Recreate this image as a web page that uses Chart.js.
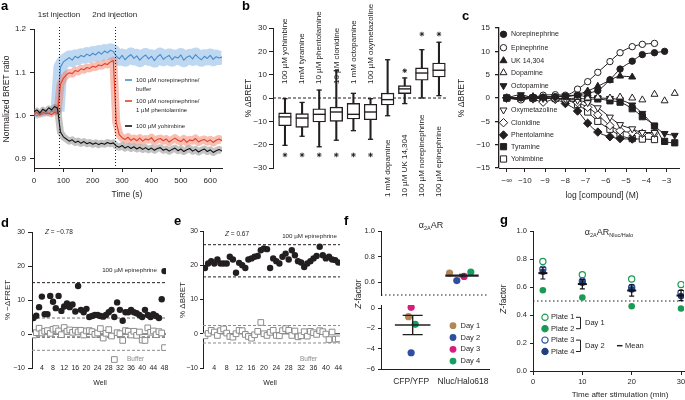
<!DOCTYPE html>
<html lang="en">

<head>
    <meta charset="UTF-8">
    <meta name="viewport" content="width=device-width, initial-scale=1.0">
    <title>alpha2A AR sensor</title>
    <style>
        body { margin: 0; width: 685px; height: 400px; overflow: hidden; background: #fff; position: relative; }
        canvas { position: absolute; left: 0; top: 0; }
    </style>
</head>

<body>
    <script src="https://cdn.jsdelivr.net/npm/chart.js@4.4.1/dist/chart.umd.min.js"></script>

    <canvas id="chartA" width="685" height="400"></canvas>
    <canvas id="chartB" width="685" height="400"></canvas>
    <canvas id="chartC" width="685" height="400"></canvas>
    <canvas id="chartD" width="685" height="400"></canvas>
    <canvas id="chartE" width="685" height="400"></canvas>
    <canvas id="chartF1" width="685" height="400"></canvas>
    <canvas id="chartF2" width="685" height="400"></canvas>
    <canvas id="chartG" width="720" height="400"></canvas>

    <script>
        // ---------- data ----------

        // a: normalized BRET ratio, one reading every 10 s
        const timeA = [0, 10, 20, 30, 40, 50, 60, 70, 80, 90, 100, 110, 120, 130, 140, 150, 160, 170, 180, 190,
            200, 210, 220, 230, 240, 250, 260, 270, 280, 290, 300, 310, 320, 330, 340, 350, 360, 370, 380, 390,
            400, 410, 420, 430, 440, 450, 460, 470, 480, 490, 500, 510, 520, 530, 540, 550, 560, 570, 580, 590,
            600, 610, 620, 630, 640]
        const injections = [85, 275]
        const blueA = [1.004, 0.999, 1.006, 1.002, 1.009, 1.004, 1.011, 1.007, 1.010,
            1.112, 1.124, 1.129, 1.134, 1.128, 1.137, 1.133, 1.139, 1.136, 1.142, 1.138, 1.144, 1.140, 1.147, 1.142, 1.149, 1.145, 1.151, 1.148,
            1.137, 1.131, 1.139, 1.129, 1.136, 1.141, 1.132, 1.138, 1.128, 1.135, 1.140, 1.131, 1.137, 1.127, 1.136, 1.141, 1.130, 1.135, 1.139,
            1.129, 1.136, 1.133, 1.140, 1.128, 1.135, 1.138, 1.131, 1.141, 1.134, 1.129, 1.137, 1.132, 1.139, 1.130, 1.136, 1.133, 1.135]
        const redA = [1.003, 1.007, 1.001, 1.008, 1.004, 1.006, 1.002, 1.008, 1.005,
            1.072, 1.086, 1.094, 1.099, 1.097, 1.104, 1.102, 1.108, 1.106, 1.111, 1.109, 1.114, 1.112, 1.117, 1.115, 1.120, 1.118, 1.124, 1.127,
            0.985, 0.956, 0.949, 0.945, 0.950, 0.943, 0.947, 0.942, 0.948, 0.941, 0.946, 0.944, 0.949, 0.940, 0.945, 0.947, 0.942, 0.946, 0.939,
            0.944, 0.948, 0.943, 0.940, 0.946, 0.938, 0.944, 0.942, 0.947, 0.939, 0.943, 0.945, 0.940, 0.944, 0.938, 0.943, 0.946, 0.942]
        const blackA = [1.009, 1.013, 1.006, 1.015, 1.010, 1.018, 1.013, 1.021, 1.017,
            0.962, 0.951, 0.946, 0.941, 0.944, 0.938, 0.941, 0.936, 0.940, 0.935, 0.938, 0.934, 0.937, 0.933, 0.936, 0.934, 0.938, 0.935, 0.937,
            0.930, 0.927, 0.931, 0.925, 0.929, 0.924, 0.928, 0.923, 0.927, 0.922, 0.926, 0.921, 0.925, 0.920, 0.924, 0.926, 0.920, 0.923, 0.918,
            0.922, 0.925, 0.919, 0.923, 0.917, 0.921, 0.924, 0.918, 0.922, 0.916, 0.920, 0.923, 0.917, 0.921, 0.915, 0.919, 0.922, 0.918]

        // b: box plots of % dBRET
        const bLabels = ['100 \u00b5M yohimbine', '1mM tyramine', '10 \u00b5M phentolamine', '10 \u00b5M clonidine',
            '1 mM octopamine', '100 \u00b5M oxymetazoline', '1 mM dopamine', '10 \u00b5M UK 14,304',
            '100 \u00b5M norepinephrine', '100 \u00b5M epinephrine']
        const bX = [1, 2, 3, 4, 5, 6, 7, 8, 9, 10]
        const bMin = [-20.3, -16.4, -20.9, -18.1, -14.0, -17.7, -7.6, -2.4, 0.0, 1.0]
        const bQ1 = [-11.9, -12.6, -10.3, -10.0, -9.0, -9.3, -3.0, 1.9, 7.6, 9.0]
        const bMed = [-8.1, -8.6, -7.0, -6.0, -7.0, -6.0, -0.7, 3.9, 10.7, 11.9]
        const bQ3 = [-6.4, -6.7, -4.6, -3.9, -2.3, -2.7, 2.1, 5.3, 12.9, 15.0]
        const bMax = [-0.3, -1.9, 3.4, 11.7, 2.0, -0.3, 16.4, 8.6, 20.7, 23.9]
        const bStar = [-24.4, -24.4, -24.4, -24.4, -24.4, -24.4, null, 11.7, 27.4, 27.4]

        // c: concentration response, log [compound] (M)
        const NEG_INF = -10.9
        const logC = [NEG_INF, -10.2, -9.6, -9.1, -8.5, -8.0, -7.4, -6.9, -6.4, -5.8, -5.3, -4.7, -4.2, -3.6, -3.1, -2.6]
        const cTicks = [NEG_INF, -10, -9, -8, -7, -6, -5, -4, -3]
        const cNames = ['Norepinephrine', 'Epinephrine', 'UK 14,304', 'Dopamine', 'Octopamine',
            'Oxymetazoline', 'Clonidine', 'Phentolamine', 'Tyramine', 'Yohimbine']
        const cNor = [0, 0, 0.1, 0.2, 0.3, 0.4, 0.6, 1.1, 1.6, 3.9, 6.2, 7.9, 9.3, 9.7, 10.0]
        const cEpi = [0, -0.4, 0.1, 0.6, 0.7, 0.6, 1.9, 3.5, 5.5, 7.8, 9.7, 11.0, 11.5, 11.7]
        const cUK = [0, 0.1, 0.3, 0.2, 0.4, 0.3, 0.8, 1.5, 2.5, 3.8, 4.7, 4.5]
        const cDop = [0, 0.1, 0, 0.2, 0.3, 0.2, 0.1, 0, 0.2, 0, 0.2, 0, -0.4, 0.8, -0.6, 1.0]
        const cOct = [0, 0.7, 0.1, 0.2, 0.3, 0.5, 0.6, 0.2, 0, -0.1, -0.4, -1.5, -3.3, -6.0, -7.6, -8.0]
        const cOxy = [0, 0, 0, -0.1, 0, -0.2, -0.5, -1.0, -2.1, -4.1, -5.7, -6.6, -7.4, -7.4]
        const cClo = [0, 0, -0.2, -0.9, -0.2, -0.4, -1.0, -2.0, -3.6, -5.9, -7.0, -7.4, -7.6, -7.5]
        const cPhe = [0, 0, 0, 0, -0.3, -1.2, -2.8, -5.4, -7.3, -8.3, -8.7, -8.8]
        const cTyr = [0, -0.1, 0, -0.2, 0, -0.2, 0, -0.3, -0.2, -0.6, -0.9, -2.3, -4.0, -6.0, -9.3, -9.6]
        const cYoh = [0, 0, 0, 0, -0.1, -0.4, -1.4, -3.0, -5.0, -6.7, -8.0, -8.7, -8.8, -8.9]
        const cValues = [cNor, cEpi, cUK, cDop, cOct, cOxy, cClo, cPhe, cTyr, cYoh]
        const cFitted = [true, true, true, false, true, true, true, true, true, true]

        // d: FRET screen, 48 wells
        const wellsD = [1, 2, 3, 4, 5, 6, 7, 8, 9, 10, 11, 12, 13, 14, 15, 16, 17, 18, 19, 20, 21, 22, 23, 24,
            25, 26, 27, 28, 29, 30, 31, 32, 33, 34, 35, 36, 37, 38, 39, 40, 41, 42, 43, 44, 45, 46, 47, 48]
        const wellTicksD = [4, 8, 12, 16, 20, 24, 28, 32, 36, 40, 44, 48]
        const epiD = [4.7, 5.4, 7.9, 11.0, 5.8, 5.8, 11.2, 9.5, 7.6, 11.2, 6.8, 8.1, 9.0, 7.9, 8.7, 6.6, 14.1, 7.1, 6.4, 7.4,
            5.0, 5.3, 5.6, 5.6, 5.3, 5.1, 5.6, 6.4, 7.1, 5.0, 9.3, 7.1, 3.9, 6.4, 6.4, 7.1, 6.4, 6.1, 5.6, 5.0,
            7.1, 5.6, 5.0, 5.8, 5.3, 4.7, 10.2, 18.5]
        const bufD = [-0.3, 0.4, 1.7, 0.3, 0.8, 1.0, 0.2, 1.4, 1.6, 0.9, -0.2, 1.9, 0.8, 1.2, 0.5, 1.1, 0.6, 1.1, -0.3, 0.9,
            1.0, 0.7, -0.1, 0.3, 1.6, -1.2, 0.2, 1.3, -0.6, -7.5, 0.4, 0.1, -1.9, 1.0, 0.8, -0.3, 0.8, -0.4, 0.6, -1.8,
            -1.9, 1.8, 0.5, 0.9, -0.2, 0.7, 0.3, -4.0]
        const dRef = [15.1, 4.7, 0, -0.9, -4.8]

        // e: BRET screen, 44 wells
        const wellsE = [1, 2, 3, 4, 5, 6, 7, 8, 9, 10, 11, 12, 13, 14, 15, 16, 17, 18, 19, 20, 21, 22,
            23, 24, 25, 26, 27, 28, 29, 30, 31, 32, 33, 34, 35, 36, 37, 38, 39, 40, 41, 42, 43, 44]
        const wellTicksE = [4, 8, 12, 16, 20, 24, 28, 32, 36, 40, 44]
        const epiE = [19.2, 20.5, 21.2, 20.5, 21.7, 20.5, 20.5, 20.5, 22.5, 21.7, 17.8, 20.7, 20.0, 19.2, 21.7, 22.0, 22.5, 22.7, 24.4, 24.9,
            24.7, 19.2, 22.0, 21.2, 20.5, 22.5, 23.4, 21.7, 24.4, 22.9, 21.2, 20.8, 19.5, 20.5, 21.2, 22.0, 22.7, 25.4, 22.9, 22.0,
            22.5, 21.7, 21.5, 20.8]
        const bufE = [-0.6, 0.1, 1.0, 0.5, -0.5, 0.9, 1.4, 0.2, -0.8, -1.0, 0.0, 1.0, 0.9, -0.2, -0.8, -1.3, -0.3, 0.7, 3.3, 0.0,
            -0.5, 0.4, 1.0, -0.5, -0.6, 0.9, 1.5, 1.0, -0.5, 0.8, -0.9, -0.6, 0.6, -0.7, 0.7, 0.3, -0.2, 0.9, 0.6, -0.1,
            -1.7, 0.5, -1.6, -1.5]
        const eRef = [26, 16.6, 2.4, 0, -2.7]

        // f: Z-factor per day
        const fGroups = ['CFP/YFP', 'Nluc/Halo618']
        const fDays = ['Day 1', 'Day 2', 'Day 3', 'Day 4']
        const fCfpX = [0.95, 1.0, 1.0, 1.08]
        const fCfp = [-0.85, -4.4, 0.07, -1.6]
        const fNlucX = [1.74, 1.88, 2.02, 2.15]
        const fNluc = [0.671, 0.613, 0.645, 0.679]
        const fMeanX = [1.03, 1.98]
        const fMean = [-1.67, 0.652]
        const fSem = [0.95, 0.01]

        // g: Z-factor over time
        const gTime = [2, 10, 20, 30]
        const gPlate1 = [0.783, 0.688, 0.657, 0.617]
        const gPlate2 = [0.577, 0.525, 0.463, 0.446]
        const gPlate3 = [0.728, 0.642, 0.597, 0.559]
        const gPlate4 = [0.709, 0.630, 0.583, 0.535]
        const gMean = [0.699, 0.621, 0.575, 0.539]
        const gSem = [0.042, 0.034, 0.040, 0.036]

        // ---------- helpers ----------
        const W = 685
        const H = 400
        const INK = '#231f20'
        const FAMILY = '"Liberation Sans", Arial, sans-serif'

        Chart.defaults.font.family = FAMILY
        Chart.defaults.color = INK
        Chart.defaults.animation = false
        Chart.defaults.responsive = false
        Chart.defaults.plugins.legend.display = false
        Chart.defaults.plugins.tooltip.enabled = false

        const minus = v => String(v).replace('-', '\u2212')
        const one = v => minus(v.toFixed(1))
        const pts = (xs, ys) => xs.map((x, i) => ({ x, y: ys[i] }))
        const font = (size, style = '') => `${style} ${size}px ${FAMILY}`.trim()

        // box = chart area in page pixels [left, top, right, bottom]
        function area(box, cw = W, noX = false) {
            return { padding: { left: 0, top: box[1], right: cw - box[2], bottom: noX ? H - box[3] : 0 } }
        }

        function yScale(box, min, max, ticks, o = {}) {
            return {
                type: 'linear', min, max,
                afterFit: s => { s.width = box[0] },
                afterBuildTicks: s => { s.ticks = ticks.map(value => ({ value })) },
                grid: { drawOnChartArea: false, drawTicks: true, tickLength: o.tick ?? 4, color: INK, lineWidth: o.lw ?? 1 },
                border: { color: INK, width: o.lw ?? 1 },
                ticks: { font: { size: o.size ?? 8 }, color: INK, padding: o.pad ?? 3, autoSkip: false, callback: o.fmt ?? minus }
            }
        }

        function xScale(box, min, max, ticks, o = {}) {
            return {
                type: 'linear', min, max, offset: false,
                afterFit: s => { s.height = H - box[3] },
                afterBuildTicks: s => { s.ticks = ticks.map(value => ({ value })) },
                grid: { display: !o.noMarks, offset: false, drawOnChartArea: false, drawTicks: !o.noMarks, tickLength: o.tick ?? 4, color: INK },
                border: { display: o.border ?? true, color: INK, width: o.lw ?? 1 },
                ticks: { display: o.labels ?? true, font: { size: o.size ?? 8 }, color: INK, padding: o.pad ?? 3, maxRotation: 0, autoSkip: false, callback: o.fmt ?? minus }
            }
        }

        function overlay(after, before) {
            return {
                id: 'overlay',
                beforeDatasetsDraw(chart) {
                    if (!before) return
                    chart.ctx.save()
                    before(chart.ctx, chart)
                    chart.ctx.restore()
                },
                afterDraw(chart) {
                    if (!after) return
                    chart.ctx.save()
                    after(chart.ctx, chart)
                    chart.ctx.restore()
                }
            }
        }

        function txt(ctx, s, x, y, o = {}) {
            ctx.save()
            ctx.translate(x, y)
            if (o.rot) ctx.rotate(o.rot * Math.PI / 180)
            ctx.font = font(o.size ?? 8, o.style ?? '')
            ctx.fillStyle = o.color ?? INK
            ctx.textAlign = o.align ?? 'left'
            ctx.textBaseline = o.base ?? 'middle'
            ctx.fillText(s, 0, 0)
            ctx.restore()
        }

        // parts: [text, size, style, dy], drawn on one alphabetic baseline
        function rich(ctx, parts, x, y, o = {}) {
            ctx.save()
            ctx.translate(x, y)
            if (o.rot) ctx.rotate(o.rot * Math.PI / 180)
            ctx.textBaseline = 'alphabetic'
            ctx.textAlign = 'left'
            ctx.fillStyle = o.color ?? INK
            let w = 0
            for (const p of parts) {
                ctx.font = font(p[1], p[2] ?? '')
                w += ctx.measureText(p[0]).width
            }
            let cx = o.align === 'center' ? -w / 2 : (o.align === 'right' ? -w : 0)
            for (const p of parts) {
                ctx.font = font(p[1], p[2] ?? '')
                ctx.fillText(p[0], cx, p[3] ?? 0)
                cx += ctx.measureText(p[0]).width
            }
            ctx.restore()
        }

        function letter(ctx, s, x, y) {
            txt(ctx, s, x, y, { size: 13, style: 'bold', base: 'alphabetic', color: '#000' })
        }

        // well numbers sit level with the lowest y tick, so they are written here
        function wellLabels(ctx, chart, ticks, y) {
            for (const w of ticks) {
                txt(ctx, String(w), chart.scales.x.getPixelForValue(w), y, { size: 7, align: 'center' })
            }
        }

        function hline(ctx, chart, v, color, dash, lw = 1) {
            const y = chart.scales.y.getPixelForValue(v)
            const { left, right } = chart.chartArea
            ctx.save()
            ctx.strokeStyle = color
            ctx.lineWidth = lw
            ctx.setLineDash(dash)
            ctx.beginPath()
            ctx.moveTo(left, y)
            ctx.lineTo(right, y)
            ctx.stroke()
            ctx.restore()
        }

        function errBar(ctx, chart, x, lo, hi, cap, color, lw = 1) {
            const px = chart.scales.x.getPixelForValue(x)
            const y1 = chart.scales.y.getPixelForValue(lo)
            const y2 = chart.scales.y.getPixelForValue(hi)
            ctx.save()
            ctx.strokeStyle = color
            ctx.lineWidth = lw
            ctx.beginPath()
            ctx.moveTo(px, y1)
            ctx.lineTo(px, y2)
            ctx.moveTo(px - cap, y1)
            ctx.lineTo(px + cap, y1)
            ctx.moveTo(px - cap, y2)
            ctx.lineTo(px + cap, y2)
            ctx.stroke()
            ctx.restore()
        }

        function marker(ctx, style, rot, r, x, y, fill, stroke, lw = 1) {
            ctx.save()
            ctx.translate(x, y)
            ctx.rotate(rot * Math.PI / 180)
            ctx.beginPath()
            if (style === 'circle') ctx.arc(0, 0, r, 0, Math.PI * 2)
            if (style === 'rect') {
                const s = r * Math.SQRT1_2
                ctx.rect(-s, -s, 2 * s, 2 * s)
            }
            if (style === 'rectRot') {
                ctx.moveTo(0, -r)
                ctx.lineTo(r, 0)
                ctx.lineTo(0, r)
                ctx.lineTo(-r, 0)
                ctx.closePath()
            }
            if (style === 'triangle') {
                for (let k = 0; k < 3; k++) {
                    const a = k * 2 * Math.PI / 3
                    if (k === 0) ctx.moveTo(Math.sin(a) * r, -Math.cos(a) * r)
                    else ctx.lineTo(Math.sin(a) * r, -Math.cos(a) * r)
                }
                ctx.closePath()
            }
            ctx.fillStyle = fill
            ctx.fill()
            if (lw > 0) {
                ctx.lineWidth = lw
                ctx.strokeStyle = stroke
                ctx.stroke()
            }
            ctx.restore()
        }

        // ---------- a ----------
        const boxA = [34, 29, 222, 168]

        function trace(values, color, width) {
            return {
                data: pts(timeA, values), borderColor: color, borderWidth: width,
                pointRadius: 0, borderJoinStyle: 'round', tension: 0
            }
        }

        function band(values, color, early, late) {
            const d = trace(values, color, late)
            d.segment = { borderWidth: c => (timeA[c.p1DataIndex] <= injections[0] ? early : late) }
            return d
        }

        new Chart(document.getElementById('chartA'), {
            type: 'line',
            data: {
                datasets: [
                    trace(blackA, '#111111', 1.1),
                    band(blackA, 'rgba(120,120,120,0.45)', 5, 7),
                    trace(redA, '#e5402a', 1.1),
                    band(redA, 'rgba(240,125,100,0.5)', 5, 8),
                    trace(blueA, '#4a8ccb', 1.1),
                    band(blueA, 'rgba(125,178,228,0.5)', 5, 14)
                ]
            },
            options: {
                devicePixelRatio: 1,
                layout: area(boxA),
                scales: {
                    x: xScale(boxA, 0, 640, [0, 100, 200, 300, 400, 500, 600], { pad: 4 }),
                    y: yScale(boxA, 0.879, 1.2, [0.9, 1.0, 1.1, 1.2], { fmt: one, pad: 4 })
                }
            },
            plugins: [overlay((ctx, c) => {
                const { top, bottom } = c.chartArea
                ctx.strokeStyle = INK
                ctx.lineWidth = 1
                ctx.setLineDash([1, 2])
                for (const t of injections) {
                    const x = Math.round(c.scales.x.getPixelForValue(t)) + 0.5
                    ctx.beginPath()
                    ctx.moveTo(x, top - 2)
                    ctx.lineTo(x, bottom)
                    ctx.stroke()
                }
                ctx.setLineDash([])
                txt(ctx, '1st injection', c.scales.x.getPixelForValue(injections[0]), 15, { size: 8, align: 'center' })
                txt(ctx, '2nd injection', c.scales.x.getPixelForValue(injections[1]), 15, { size: 8, align: 'center' })
                letter(ctx, 'a', 1, 10)
                txt(ctx, 'Normalized BRET ratio', 7, 99, { size: 8.5, rot: -90, align: 'center' })
                txt(ctx, 'Time (s)', 127, 195, { size: 8.5, align: 'center' })

                const legend = [['#4a8ccb', 80, ['100 \u00b5M norepinephrine/', 'buffer']],
                    ['#e5402a', 101, ['100 \u00b5M norepinephrine/', '1 \u00b5M phentolamine']],
                    ['#111111', 126, ['100 \u00b5M yohimbine']]]
                for (const [col, y, lines] of legend) {
                    ctx.strokeStyle = col
                    ctx.lineWidth = 1.6
                    ctx.beginPath()
                    ctx.moveTo(125, y)
                    ctx.lineTo(132, y)
                    ctx.stroke()
                    lines.forEach((s, i) => txt(ctx, s, 136, y + i * 9, { size: 6 }))
                }
            })]
        })

        // ---------- b ----------
        const boxB = [273, 28, 447, 168]

        new Chart(document.getElementById('chartB'), {
            type: 'bar',
            data: {
                datasets: [
                    { type: 'scatter', data: pts(bX, bStar), pointStyle: 'star', pointRadius: 2.3, pointBorderWidth: 0.9, pointBorderColor: INK, order: 1 },
                    { type: 'scatter', data: pts(bX, bMed), pointStyle: 'line', pointRadius: 6.3, pointBorderWidth: 1.4, pointBorderColor: INK, order: 1 },
                    { type: 'scatter', data: pts(bX, bMin), pointStyle: 'line', pointRadius: 2.6, pointBorderWidth: 1.3, pointBorderColor: INK, order: 2 },
                    { type: 'scatter', data: pts(bX, bMax), pointStyle: 'line', pointRadius: 2.6, pointBorderWidth: 1.3, pointBorderColor: INK, order: 2 },
                    {
                        data: bX.map((x, i) => ({ x, y: [bQ1[i], bQ3[i]] })), barThickness: 12.7, grouped: false,
                        backgroundColor: '#fff', borderColor: INK, borderWidth: 1.4, borderSkipped: false, order: 3
                    },
                    {
                        data: bX.map((x, i) => ({ x, y: [bMin[i], bMax[i]] })), barThickness: 1.4, grouped: false,
                        backgroundColor: INK, borderWidth: 0, order: 4
                    }
                ]
            },
            options: {
                devicePixelRatio: 1,
                layout: area(boxB, W, true),
                scales: {
                    x: { type: 'linear', display: false, min: 0.3, max: 10.47, offset: false, grid: { offset: false } },
                    y: yScale(boxB, -30, 30, [-30, -20, -10, 0, 10, 20, 30], { tick: 4, pad: 2 })
                }
            },
            plugins: [overlay((ctx, c) => {
                bLabels.forEach((s, i) => {
                    const x = c.scales.x.getPixelForValue(bX[i])
                    txt(ctx, s, x, i < 6 ? 84 : 197, { size: 8, rot: -90 })
                })
                letter(ctx, 'b', 242, 10)
                txt(ctx, '% \u0394BRET', 249, 98, { size: 8.5, rot: -90, align: 'center' })
            }, (ctx, c) => {
                hline(ctx, c, 0, INK, [3, 2])
            })]
        })

        // ---------- c ----------
        const boxC = [499, 28, 680, 168]
        const cLook = [['circle', 0, true], ['circle', 0, false], ['triangle', 0, true], ['triangle', 0, false],
            ['triangle', 180, true], ['triangle', 180, false], ['rectRot', 0, false], ['rectRot', 0, true],
            ['rect', 0, true], ['rect', 0, false]]
        const cSize = { circle: 3.2, triangle: 4, rectRot: 4.2, rect: 4.4 }
        const cLegendY = [34.3, 47.7, 60.7, 72.7, 85.7, 110, 122.7, 135, 146.7, 159]

        new Chart(document.getElementById('chartC'), {
            type: 'scatter',
            data: {
                datasets: cValues.map((vals, k) => {
                    const [style, rot, filled] = cLook[k]
                    return {
                        data: vals.map((y, i) => ({ x: logC[i], y })),
                        showLine: cFitted[k], borderColor: INK, borderWidth: 1,
                        cubicInterpolationMode: 'monotone',
                        pointStyle: style, rotation: rot, pointRadius: cSize[style],
                        pointBackgroundColor: filled ? INK : '#fff', pointBorderColor: INK, pointBorderWidth: 1
                    }
                })
            },
            options: {
                devicePixelRatio: 1,
                layout: area(boxC),
                scales: {
                    x: xScale(boxC, -11.28, -2.36, cTicks, { pad: 4, fmt: v => (v === NEG_INF ? '\u2212\u221e' : minus(v)) }),
                    y: yScale(boxC, -15, 15, [-15, -10, -5, 0, 5, 10, 15], { pad: 5, lw: 1.3 })
                }
            },
            plugins: [overlay((ctx, c) => {
                cNames.forEach((name, k) => {
                    const [style, rot, filled] = cLook[k]
                    marker(ctx, style, rot, cSize[style], 503.5, cLegendY[k], filled ? INK : '#fff', INK)
                    txt(ctx, name, 511, cLegendY[k], { size: 7 })
                })
                letter(ctx, 'c', 462, 20)
                txt(ctx, '% \u0394BRET', 462, 98, { size: 8.5, rot: -90, align: 'center' })
                txt(ctx, 'log [compound] (M)', 602, 196, { size: 8.5, align: 'center' })
            })]
        })

        // ---------- d ----------
        const boxD = [32, 232, 166, 368]
        const refColD = [INK, '#6f6f6f', INK, INK, '#8c8c8c']
        const refDashD = [[3, 2], [3, 2], [], [3, 2], [3, 2]]

        new Chart(document.getElementById('chartD'), {
            type: 'scatter',
            data: {
                datasets: [
                    { data: pts(wellsD, epiD), pointStyle: 'circle', pointRadius: 3.2, pointBackgroundColor: INK, pointBorderWidth: 0 },
                    { data: pts(wellsD, bufD), pointStyle: 'rect', pointRadius: 4, pointBackgroundColor: '#fff', pointBorderColor: '#8c8c8c', pointBorderWidth: 1 }
                ]
            },
            options: {
                devicePixelRatio: 1,
                layout: area(boxD),
                scales: {
                    x: xScale(boxD, 0.46, 48.54, wellTicksD, { noMarks: true, border: false, labels: false }),
                    y: yScale(boxD, -10, 30, [-10, 0, 10, 20, 30], { size: 7 })
                }
            },
            plugins: [overlay((ctx, c) => {
                wellLabels(ctx, c, wellTicksD, 368.5)
                letter(ctx, 'd', 1, 227)
                txt(ctx, '% \u2212\u0394FRET', 8, 300, { size: 8, rot: -90, align: 'center' })
                txt(ctx, 'Well', 100, 383, { size: 7, align: 'center' })
                rich(ctx, [['Z', 6.5, 'italic'], [' = \u22120.78', 6.5]], 45, 234)
                txt(ctx, '100 \u00b5M epinephrine', 157, 270.5, { size: 6.2, align: 'right' })
                txt(ctx, 'Buffer', 127, 359.5, { size: 6.5, color: '#8c8c8c' })
            }, (ctx, c) => {
                dRef.forEach((v, i) => hline(ctx, c, v, refColD[i], refDashD[i]))
            })]
        })

        // ---------- e ----------
        const boxE = [203, 231, 340, 368]
        const refColE = [INK, INK, '#8c8c8c', INK, '#8c8c8c']
        const refDashE = [[3, 2], [3, 2], [3, 2], [], [3, 2]]

        new Chart(document.getElementById('chartE'), {
            type: 'scatter',
            data: {
                datasets: [
                    { data: pts(wellsE, epiE), pointStyle: 'circle', pointRadius: 3.2, pointBackgroundColor: INK, pointBorderWidth: 0 },
                    { data: pts(wellsE, bufE), pointStyle: 'rect', pointRadius: 4, pointBackgroundColor: '#fff', pointBorderColor: '#8c8c8c', pointBorderWidth: 1 }
                ]
            },
            options: {
                devicePixelRatio: 1,
                layout: area(boxE),
                scales: {
                    x: xScale(boxE, 0.35, 44.55, wellTicksE, { noMarks: true, border: false, labels: false }),
                    y: yScale(boxE, -10, 30, [-10, 0, 10, 20, 30], { size: 7, tick: 3, pad: 2 })
                }
            },
            plugins: [overlay((ctx, c) => {
                wellLabels(ctx, c, wellTicksE, 368.5)
                letter(ctx, 'e', 174, 225)
                txt(ctx, '% \u0394BRET', 183, 300, { size: 8, rot: -90, align: 'center' })
                txt(ctx, 'Well', 270, 383, { size: 7, align: 'center' })
                rich(ctx, [['Z', 6.5, 'italic'], [' = 0.67', 6.5]], 225, 235.5)
                txt(ctx, '100 \u00b5M epinephrine', 337, 236.5, { size: 6.2, align: 'right' })
                txt(ctx, 'Buffer', 300, 359.5, { size: 6.5, color: '#8c8c8c' })
            }, (ctx, c) => {
                eRef.forEach((v, i) => hline(ctx, c, v, refColE[i], refDashE[i]))
            })]
        })

        // ---------- f (broken axis: two stacked charts) ----------
        const fColors = ['#b38656', '#2f4ea0', '#d81b7f', '#12a060']
        const boxF1 = [381, 231, 489, 295]
        const boxF2 = [381, 305, 489, 369]

        new Chart(document.getElementById('chartF1'), {
            type: 'scatter',
            data: {
                datasets: [
                    { data: [{ x: fMeanX[1], y: fMean[1] }], pointStyle: 'line', pointRadius: 16.7, pointBorderWidth: 2.2, pointBorderColor: INK },
                    { data: pts(fNlucX, fNluc), pointRadius: 3.6, pointBackgroundColor: fColors, pointBorderWidth: 0 }
                ]
            },
            options: {
                devicePixelRatio: 1,
                layout: area(boxF1, W, true),
                scales: {
                    x: { type: 'linear', display: false, min: 0.42, max: 2.5 },
                    y: yScale(boxF1, 0.5, 1.0, [0.6, 0.8, 1.0], { fmt: one, size: 7.5, tick: 3 })
                }
            },
            plugins: [overlay((ctx, c) => {
                errBar(ctx, c, fMeanX[1], fMean[1] - fSem[1], fMean[1] + fSem[1], 3, INK)
                ctx.strokeStyle = INK
                ctx.lineWidth = 1.2
                ctx.setLineDash([1.5, 2.5])
                ctx.beginPath()
                ctx.moveTo(c.chartArea.left, c.chartArea.bottom)
                ctx.lineTo(c.chartArea.right, c.chartArea.bottom)
                ctx.stroke()
            })]
        })

        new Chart(document.getElementById('chartF2'), {
            type: 'scatter',
            data: {
                datasets: [
                    { data: [{ x: fMeanX[0], y: fMean[0] }], pointStyle: 'line', pointRadius: 17.8, pointBorderWidth: 1.5, pointBorderColor: INK },
                    { data: pts(fCfpX, fCfp), pointRadius: 3.6, pointBackgroundColor: fColors, pointBorderWidth: 0 }
                ]
            },
            options: {
                devicePixelRatio: 1,
                layout: area(boxF2),
                scales: {
                    x: xScale(boxF2, 0.42, 2.5, [1, 2], { noMarks: true, pad: 8, size: 8.5, fmt: v => fGroups[v - 1] }),
                    y: yScale(boxF2, -6, 0.3, [-6, -4, -2, 0], { size: 7.5, tick: 3 })
                }
            },
            plugins: [overlay((ctx, c) => {
                errBar(ctx, c, fMeanX[0], fMean[0] - fSem[0], fMean[0] + fSem[0], 10, INK, 1.4)
                fDays.forEach((s, i) => {
                    const y = 325.7 + i * 11.8
                    marker(ctx, 'circle', 0, 3.4, 453, y, fColors[i], fColors[i], 0)
                    txt(ctx, s, 460.5, y, { size: 7.5 })
                })
                letter(ctx, 'f', 344, 225)
                rich(ctx, [['\u03b1', 9], ['2A', 5.5, '', 2], ['AR', 9]], 431, 228, { align: 'center' })
                rich(ctx, [['Z', 8.5, 'italic'], ['-factor', 8.5]], 361, 294, { rot: -90, align: 'center' })
            })]
        })

        // ---------- g ----------
        const boxG = [533, 231, 684, 371]
        const GREEN = '#1b9a55'
        const BLUE = '#2b4c9e'
        const NAVY = '#22407f'

        new Chart(document.getElementById('chartG'), {
            type: 'scatter',
            data: {
                datasets: [
                    { data: pts(gTime, gMean), pointStyle: 'line', pointRadius: 4.5, pointBorderWidth: 2, pointBorderColor: '#111' },
                    { data: pts(gTime, gPlate4), pointRadius: 3.3, pointBackgroundColor: NAVY, pointBorderWidth: 0 },
                    { data: pts(gTime, gPlate3), pointRadius: 3.1, pointBackgroundColor: '#fff', pointBorderColor: BLUE, pointBorderWidth: 1.2 },
                    { data: pts(gTime, gPlate2), pointRadius: 3.3, pointBackgroundColor: GREEN, pointBorderWidth: 0 },
                    { data: pts(gTime, gPlate1), pointRadius: 3.1, pointBackgroundColor: '#fff', pointBorderColor: GREEN, pointBorderWidth: 1.2 }
                ]
            },
            options: {
                devicePixelRatio: 1,
                layout: area(boxG, 720),
                scales: {
                    x: xScale(boxG, 0, 30.6, [0, 10, 20, 30], { size: 7.5, pad: 2 }),
                    y: yScale(boxG, 0, 1, [0, 0.2, 0.4, 0.6, 0.8, 1.0], { fmt: one, size: 7.5, tick: 3 })
                }
            },
            plugins: [overlay((ctx, c) => {
                gTime.forEach((t, i) => errBar(ctx, c, t, gMean[i] - gSem[i], gMean[i] + gSem[i], 2.5, '#111', 1.2))
                const legend = [['Plate 1', '#fff', GREEN], ['Plate 2', GREEN, GREEN], ['Plate 3', '#fff', BLUE], ['Plate 4', NAVY, NAVY]]
                legend.forEach(([s, fill, stroke], i) => {
                    const y = 317.3 + i * 11.4
                    marker(ctx, 'circle', 0, 3.1, 545, y, fill, stroke, 1.2)
                    txt(ctx, s, 551, y, { size: 7.5 })
                })
                ctx.strokeStyle = INK
                ctx.lineWidth = 1
                for (const y of [317.3, 340.1]) {
                    ctx.beginPath()
                    ctx.moveTo(576, y)
                    ctx.lineTo(580.5, y)
                    ctx.lineTo(580.5, y + 11.4)
                    ctx.lineTo(576, y + 11.4)
                    ctx.stroke()
                }
                txt(ctx, 'Day 1', 585, 323, { size: 7.5 })
                txt(ctx, 'Day 2', 585, 346, { size: 7.5 })
                ctx.lineWidth = 1.5
                ctx.beginPath()
                ctx.moveTo(617, 345.7)
                ctx.lineTo(622.5, 345.7)
                ctx.stroke()
                txt(ctx, 'Mean', 625, 345.7, { size: 7.5 })
                letter(ctx, 'g', 500, 224)
                rich(ctx, [['\u03b1', 9], ['2A', 5.5, '', 2], ['AR', 9], ['Nluc/Halo', 5.5, '', 2]], 609, 235, { align: 'center' })
                rich(ctx, [['Z', 8.5, 'italic'], ['-factor', 8.5]], 506, 299, { rot: -90, align: 'center' })
                txt(ctx, 'Time after stimulation (min)', 620, 395, { size: 8, align: 'center' })
            }, (ctx, c) => {
                hline(ctx, c, 0.5, INK, [1.5, 2.5], 1.2)
            })]
        })
    </script>

</body>

</html>
